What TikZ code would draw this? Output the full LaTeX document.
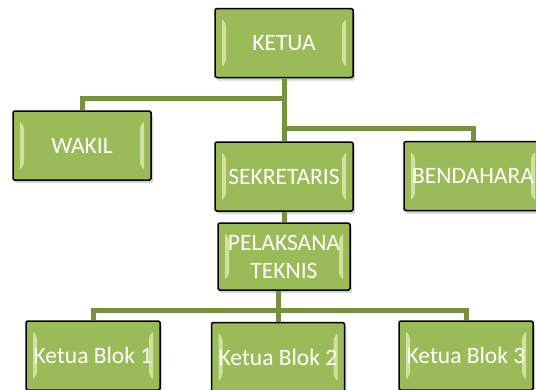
\documentclass[tikz,border=0pt]{standalone}
\usepackage{fontspec}
\setmainfont{Carlito}
\usetikzlibrary{shadows}

\definecolor{boxgreen}{RGB}{155,187,89}
\definecolor{lightgreen}{RGB}{226,240,180}
\definecolor{linegreen}{RGB}{118,146,60}

\tikzset{
  jabatan/.style={draw=black,line width=1.5pt,rounded corners=1.5pt,fill=boxgreen,
    minimum width=138pt,minimum height=69pt,inner sep=0pt,align=center,
    text=white,font=\fontsize{23.5}{28}\selectfont,
    drop shadow={shadow xshift=2pt,shadow yshift=-3pt,opacity=0.35},
    path picture={
      \fill[lightgreen,opacity=0.75]
        ([xshift=7pt,yshift=-10pt]path picture bounding box.north west)
        -- ([xshift=11pt,yshift=-16pt]path picture bounding box.north west)
        -- ([xshift=11pt,yshift=16pt]path picture bounding box.south west)
        -- ([xshift=7pt,yshift=10pt]path picture bounding box.south west) -- cycle;
      \fill[lightgreen,opacity=0.75]
        ([xshift=-7pt,yshift=-10pt]path picture bounding box.north east)
        -- ([xshift=-11pt,yshift=-16pt]path picture bounding box.north east)
        -- ([xshift=-11pt,yshift=16pt]path picture bounding box.south east)
        -- ([xshift=-7pt,yshift=10pt]path picture bounding box.south east) -- cycle;
    }},
  garis/.style={draw=linegreen,line width=5pt}
}

\begin{document}
\begin{tikzpicture}[x=1pt,y=-1pt]
  \useasboundingbox (0,0) rectangle (536,389);

  \node[jabatan] (ketua) at (284,43) {KETUA};
  \node[jabatan] (wakil) at (82,145.5) {WAKIL};
  \node[jabatan] (sekre) at (284,176.5) {SEKRETARIS};
  \node[jabatan] (bendahara) at (473,176) {BENDAHARA};
  \node[jabatan,minimum width=132pt,minimum height=67pt] (pelaksana) at (284,256.5) {PELAKSANA\\TEKNIS};
  \node[jabatan,minimum width=134pt] (blok1) at (93,355.5) {Ketua Blok 1};
  \node[jabatan,minimum width=133pt] (blok2) at (278,357) {Ketua Blok 2};
  \node[jabatan,minimum width=134pt] (blok3) at (466,355.5) {Ketua Blok 3};

  \coordinate (j1) at (284,98);
  \coordinate (j2) at (284,128);
  \coordinate (j3) at (278,310);

  \path[garis] (ketua) -- (sekre) (sekre) -- (pelaksana)
    (j1) -| (wakil) (j2) -| (bendahara)
    (pelaksana.south -| j3) -- (j3) (j3) -| (blok1) (j3) -- (blok2) (j3) -| (blok3);
\end{tikzpicture}
\end{document}
